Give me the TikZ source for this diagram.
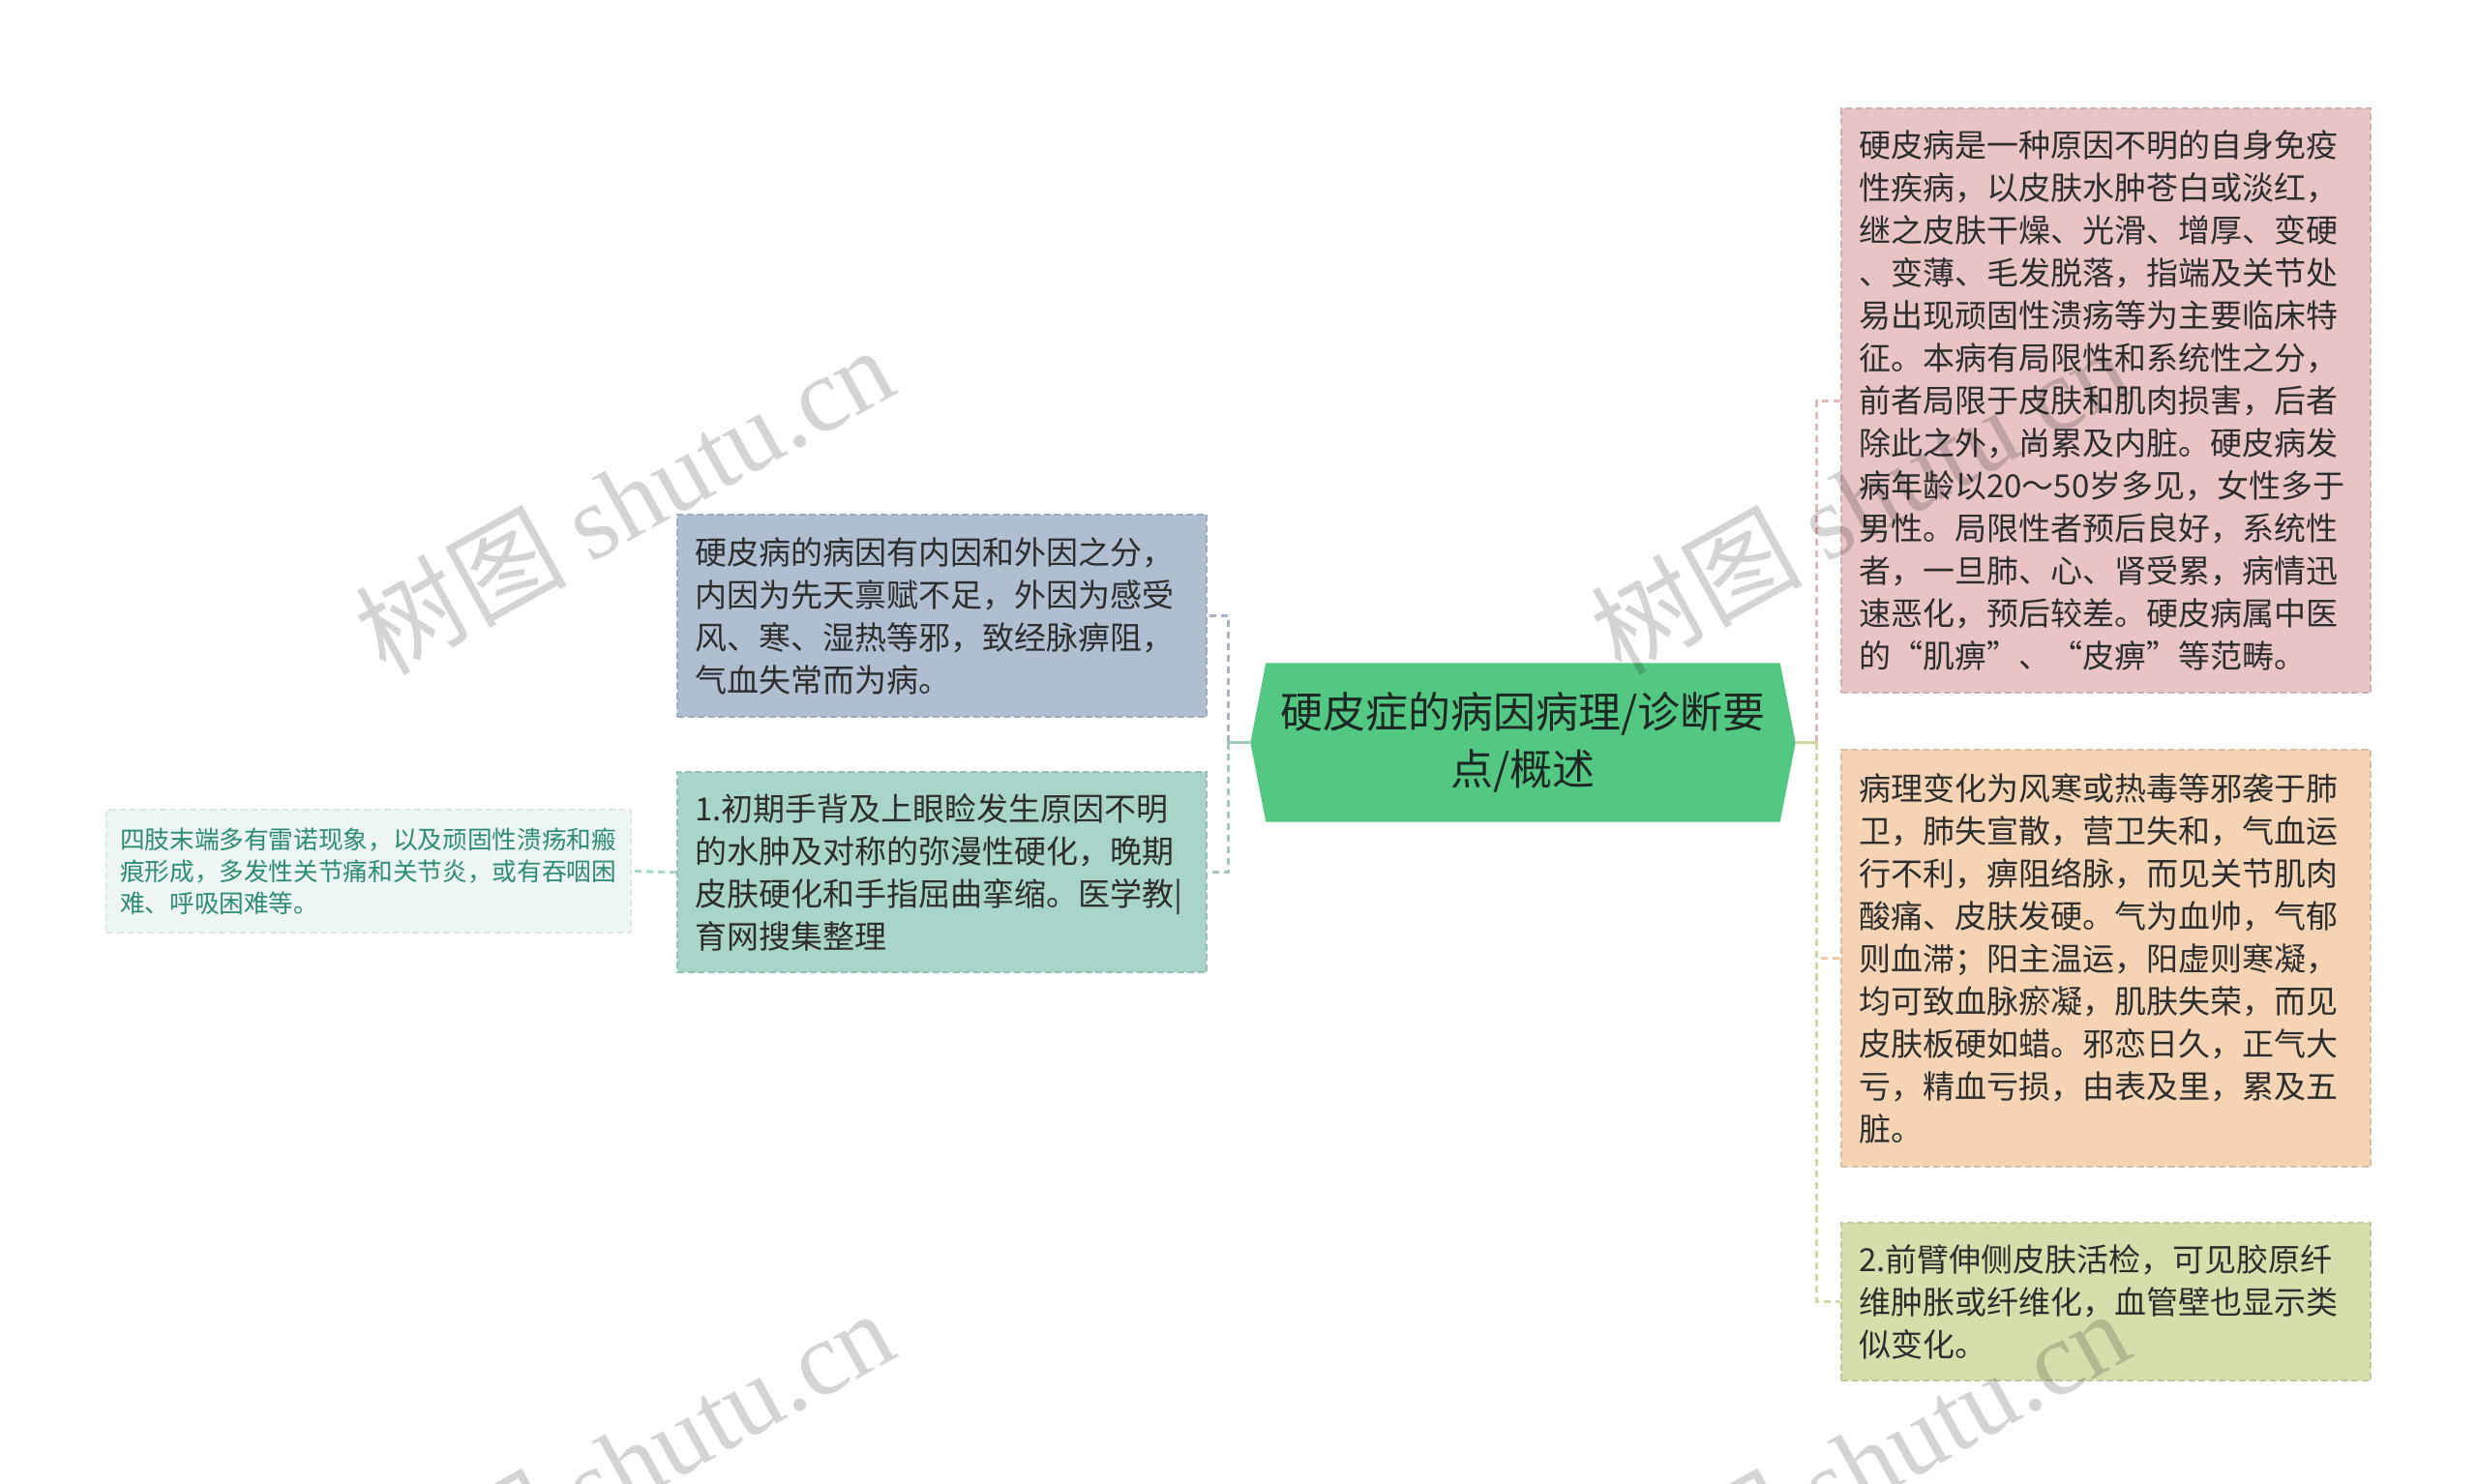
\documentclass[tikz,border=0pt]{standalone}
\usepackage{fontspec}
\setmainfont{Noto Sans CJK SC}
\newfontfamily\wmlatin{Liberation Serif}
\usetikzlibrary{positioning, backgrounds}

\definecolor{rootgreen}{RGB}{82,200,130}
\definecolor{roottext}{RGB}{30,40,34}
\definecolor{bluebox}{RGB}{175,190,208}
\definecolor{tealbox}{RGB}{168,212,202}
\definecolor{palebox}{RGB}{237,246,244}
\definecolor{pinkbox}{RGB}{232,196,196}
\definecolor{orangebox}{RGB}{244,212,180}
\definecolor{olivebox}{RGB}{215,222,172}
\definecolor{bodytext}{RGB}{45,45,45}
\definecolor{paletext}{RGB}{46,140,116}
\definecolor{blueline}{RGB}{168,180,198}
\definecolor{tealline}{RGB}{160,200,192}
\definecolor{paleline}{RGB}{168,214,202}
\definecolor{pinkline}{RGB}{226,184,184}
\definecolor{orangeline}{RGB}{240,200,164}
\definecolor{oliveline}{RGB}{210,216,160}

\tikzset{
  topic/.style={anchor=north west, text width=5.11cm, inner xsep=0.18cm, inner ysep=0pt,
    align=left, text=bodytext, font=\fontsize{9.39pt}{12.52pt}\selectfont,
    line width=0.6pt, dash pattern=on 2pt off 1pt},
  link/.style={line width=0.85pt},
  dashlink/.style={line width=0.85pt, dash pattern=on 2pt off 1.4pt},
  wmark/.style={text=black, text opacity=0.17, font=\fontsize{31pt}{31pt}\selectfont,
    rotate=29, inner sep=0pt}
}

\begin{document}
\begin{tikzpicture}
	\useasboundingbox (0,0) rectangle (25.6,-15.34);

	\node(root) [text width=5.3cm, inner xsep=0.16cm, inner ysep=0pt, minimum height=1.63cm, align=center, text=roottext, font=\fontsize{12.5pt}{16.8pt}\selectfont] at (15.74,-7.675) {硬皮症的病因病理/诊断要\\点/概述};

	%--------------------------------------------------------------------
	\node(cause) [topic, fill=pinkbox, draw=pinkbox!90!black, minimum height=6.04cm] at (19.02,-1.11) {
		硬皮病是一种原因不明的自身免疫\\
		性疾病，以皮肤水肿苍白或淡红，\\
		继之皮肤干燥、光滑、增厚、变硬\\
		、变薄、毛发脱落，指端及关节处\\
		易出现顽固性溃疡等为主要临床特\\
		征。本病有局限性和系统性之分，\\
		前者局限于皮肤和肌肉损害，后者\\
		除此之外，尚累及内脏。硬皮病发\\
		病年龄以20～50岁多见，女性多于\\
		男性。局限性者预后良好，系统性\\
		者，一旦肺、心、肾受累，病情迅\\
		速恶化，预后较差。硬皮病属中医\\
		的“肌痹”、“皮痹”等范畴。
	};
	\node(patho) [topic, fill=orangebox, draw=orangebox!90!black, minimum height=4.31cm, below=0.57cm of cause] {
		病理变化为风寒或热毒等邪袭于肺\\
		卫，肺失宣散，营卫失和，气血运\\
		行不利，痹阻络脉，而见关节肌肉\\
		酸痛、皮肤发硬。气为血帅，气郁\\
		则血滞；阳主温运，阳虚则寒凝，\\
		均可致血脉瘀凝，肌肤失荣，而见\\
		皮肤板硬如蜡。邪恋日久，正气大\\
		亏，精血亏损，由表及里，累及五\\
		脏。
	};
	\node(biopsy) [topic, fill=olivebox, draw=olivebox!90!black, minimum height=1.63cm, below=0.56cm of patho] {
		2.前臂伸侧皮肤活检，可见胶原纤\\
		维肿胀或纤维化，血管壁也显示类\\
		似变化。
	};

	%--------------------------------------------------------------------
	\node(etiology) [topic, fill=bluebox, draw=bluebox!90!black, minimum height=2.09cm] at (6.99,-5.31) {
		硬皮病的病因有内因和外因之分，\\
		内因为先天禀赋不足，外因为感受\\
		风、寒、湿热等邪，致经脉痹阻，\\
		气血失常而为病。
	};
	\node(early) [topic, fill=tealbox, draw=tealbox!90!black, minimum height=2.07cm, below=0.55cm of etiology] {
		1.初期手背及上眼睑发生原因不明\\
		的水肿及对称的弥漫性硬化，晚期\\
		皮肤硬化和手指屈曲挛缩。医学教|\\
		育网搜集整理
	};
	\node(sign) [topic, text width=5.14cm, inner xsep=0.14cm, text=paletext, font=\fontsize{7.3pt}{9.39pt}\selectfont, fill=palebox, draw=palebox!94!black, minimum height=1.27cm] at (1.09,-8.36) {
		四肢末端多有雷诺现象，以及顽固性溃疡和瘢\\
		痕形成，多发性关节痛和关节炎，或有吞咽困\\
		难、呼吸困难等。
	};

	%--------------------------------------------------------------------
	\coordinate (lhub) at ([xshift=-0.23cm]root.west);
	\coordinate (rhub) at ([xshift=0.22cm]root.east);

	\draw[dashlink, blueline] (lhub) |- (etiology.east);
	\draw[dashlink, tealline] (lhub) |- (early.east);
	\draw[link, tealline] (root.west) -- (lhub);
	\draw[dashlink, paleline] (early.west) -- (sign.east);

	\draw[dashlink, pinkline] (rhub) |- (cause.west);
	\draw[dashlink, orangeline] (rhub) |- (patho.west);
	\draw[dashlink, oliveline] (rhub) |- (biopsy.west);
	\draw[link, oliveline] (root.east) -- (rhub);

	\begin{scope}[on background layer]
		\fill[white] (0,0) rectangle (25.6,-15.34);
		\fill[rootgreen] (root.west) -- ([xshift=0.16cm]root.north west) -- ([xshift=-0.16cm]root.north east) -- (root.east) -- ([xshift=-0.16cm]root.south east) -- ([xshift=0.16cm]root.south west) -- cycle;
	\end{scope}

	%--------------------------------------------------------------------
	\node(wmtl) [wmark] at (6.45,-5.16) {树图 {\wmlatin shutu.cn}};
	\node(wmtr) [wmark] at (19.22,-5.16) {树图 {\wmlatin shutu.cn}};
	\node(wmbl) [wmark] at (6.45,-15.12) {树图 {\wmlatin shutu.cn}};
	\node(wmbr) [wmark] at (19.22,-15.12) {树图 {\wmlatin shutu.cn}};

\end{tikzpicture}
\end{document}
